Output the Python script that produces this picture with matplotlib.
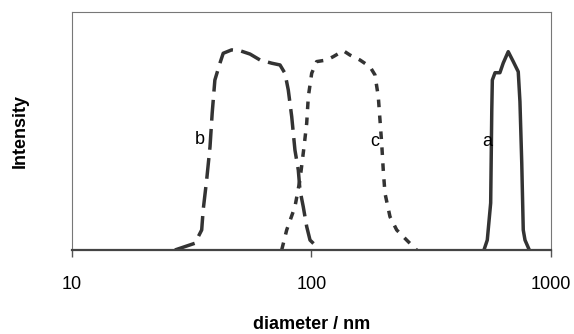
import matplotlib
matplotlib.use("Agg")
import matplotlib.pyplot as plt

# Particle size distributions (intensity scaled so peak a = 100)
d_a = [525, 542, 560, 566, 569, 584, 612, 632, 663, 696, 730, 742, 755, 766, 779, 812]
i_a = [0, 5.0, 23.7, 70.6, 85.7, 89.4, 89.4, 94.3, 100, 95.0, 89.9, 74.8, 43.9, 10.1, 5.0, 0]

d_b = [26.9, 32.6, 34.8, 35.3, 36.5, 37.7, 38.5, 39.5, 41.5, 42.8, 46.4, 50.3, 55.4,
       61.0, 68.2, 73.9, 77.5, 80.0, 82.7, 85.3, 88.1, 89.5, 92.4, 95.5, 98.6, 106.8]
i_b = [0, 3.4, 10.1, 20.2, 35.3, 52.1, 69.1, 85.7, 94.3, 99.2, 100.9, 100.5, 98.8,
       95.8, 94.2, 93.3, 89.1, 80.7, 67.2, 50.4, 40.3, 30.3, 21.8, 11.8, 5.0, 0.9]

d_c = [75.1, 78.8, 85.3, 89.5, 93.1, 95.5, 97.0, 100.2, 105.1, 115.7, 123.3, 135.8, 144.8,
       159.4, 175.5, 184.1, 190.1, 193.2, 196.4, 199.4, 202.7, 212.7, 226.9, 249.7, 274.9]
i_c = [0, 10.1, 21.8, 35.3, 52.1, 63.9, 77.3, 89.1, 95.0, 95.8, 97.5, 100.5, 98.3,
       95.8, 92.4, 88.3, 77.3, 65.6, 53.8, 40.3, 28.6, 16.8, 10.1, 5.0, 0]

labels = ["a", "b", "c"]
label_x = [540, 34.2, 184]
label_y = [54.5, 55.5, 54.5]

plt.rcParams['font.family'] = ['Liberation Sans', 'DejaVu Sans']

fig = plt.figure(figsize=(5.74, 3.34), dpi=100)
ax = fig.add_axes([0.1254, 0.2515, 0.8345, 0.7125])

col = "#333333"
ax.plot(d_a, i_a, color=col, lw=2.5, solid_joinstyle="round")
ax.plot(d_b, i_b, color=col, lw=2.5, dashes=(6, 2.4))
ax.plot(d_c, i_c, color=col, lw=2.5, dashes=(2.2, 2.4))

for t, x, y in zip(labels, label_x, label_y):
    ax.text(x, y, t, fontsize=13, ha="center", va="center", color="black")

ax.set_xscale("log")
ax.set_xlim(10, 1000)
ax.set_ylim(0, 120)
ax.set_xticks([10, 100, 1000])
ax.set_xticklabels(["10", "100", "1000"])
ax.minorticks_off()
ax.set_yticks([])
ax.tick_params(axis="x", direction="out", length=5, width=1, color="#555555",
               labelsize=13, pad=14)

for s in ["top", "left", "right"]:
    ax.spines[s].set_color("#777777")
    ax.spines[s].set_linewidth(0.8)
ax.spines["bottom"].set_color("#444444")
ax.spines["bottom"].set_linewidth(1.6)

ax.set_xlabel("diameter / nm", fontsize=13, fontweight="bold", labelpad=16)
ax.set_ylabel("Intensity", fontsize=13, fontweight="bold", labelpad=31)

fig.savefig("out.png", dpi=100)
plt.close(fig)
